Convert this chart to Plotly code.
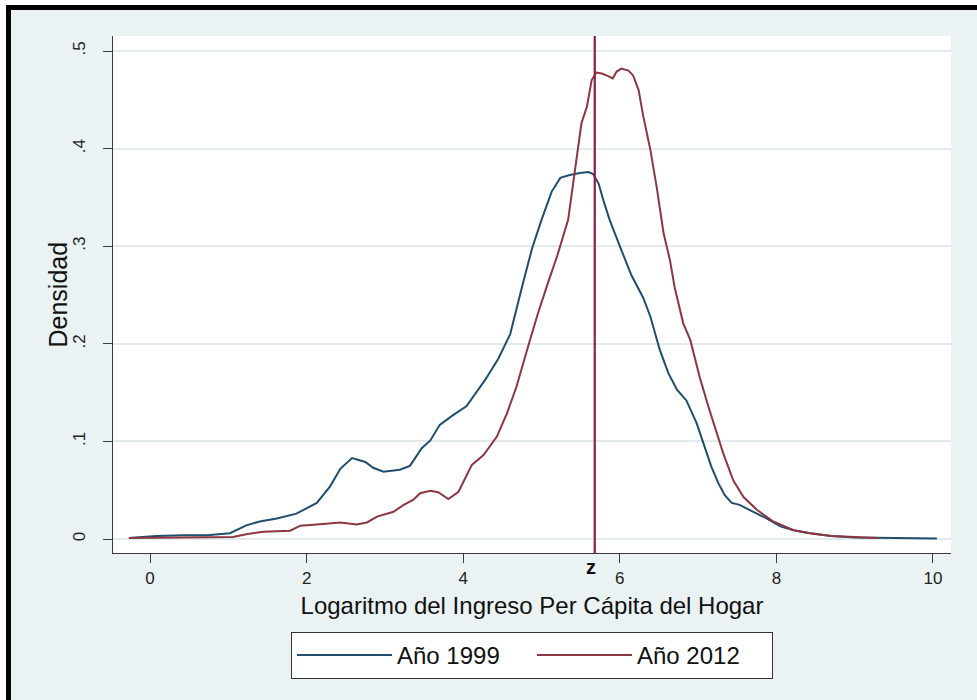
import plotly.graph_objects as go

# ---------------- data ----------------
x_1999 = [-0.27, 0.08, 0.42, 0.73, 1.02, 1.23, 1.40, 1.62, 1.87, 2.13, 2.30, 2.43, 2.58, 2.75,
          2.85, 2.98, 3.19, 3.32, 3.47, 3.58, 3.70, 3.87, 4.04, 4.17, 4.28, 4.45, 4.60, 4.75,
          4.88, 5.00, 5.13, 5.24, 5.36, 5.49, 5.60, 5.66, 5.73, 5.79, 5.87, 6.02, 6.15, 6.30,
          6.39, 6.51, 6.62, 6.73, 6.85, 6.98, 7.07, 7.17, 7.26, 7.34, 7.43, 7.53, 7.70, 7.88,
          8.05, 8.22, 8.43, 8.70, 9.00, 9.50, 10.05]
y_1999 = [0.001, 0.003, 0.004, 0.004, 0.006, 0.014, 0.018, 0.021, 0.026, 0.037, 0.054, 0.072,
          0.083, 0.079, 0.073, 0.069, 0.071, 0.075, 0.093, 0.101, 0.117, 0.127, 0.136, 0.151,
          0.163, 0.185, 0.210, 0.258, 0.298, 0.327, 0.356, 0.370, 0.373, 0.375, 0.376, 0.374,
          0.364, 0.347, 0.327, 0.296, 0.270, 0.247, 0.228, 0.194, 0.170, 0.153, 0.142, 0.119,
          0.098, 0.074, 0.057, 0.045, 0.037, 0.035, 0.028, 0.021, 0.013, 0.009, 0.006, 0.003,
          0.0015, 0.001, 0.0005]

x_2012 = [-0.27, 0.72, 1.06, 1.23, 1.45, 1.79, 1.92, 2.13, 2.43, 2.64, 2.77, 2.90, 3.11, 3.24,
          3.36, 3.45, 3.58, 3.68, 3.81, 3.94, 4.11, 4.26, 4.43, 4.56, 4.68, 4.82, 4.95, 5.08,
          5.20, 5.34, 5.43, 5.51, 5.58, 5.64, 5.70, 5.77, 5.83, 5.91, 5.96, 6.02, 6.11, 6.17,
          6.24, 6.30, 6.39, 6.47, 6.56, 6.64, 6.70, 6.81, 6.90, 7.02, 7.13, 7.22, 7.32, 7.45,
          7.58, 7.75, 7.96, 8.22, 8.43, 8.70, 9.00, 9.30]
y_2012 = [0.001, 0.0013, 0.002, 0.005, 0.0075, 0.0085, 0.0137, 0.015, 0.017, 0.015, 0.017,
          0.023, 0.028, 0.035, 0.040, 0.047, 0.0495, 0.048, 0.041, 0.0485, 0.076, 0.086, 0.105,
          0.129, 0.156, 0.195, 0.230, 0.262, 0.290, 0.327, 0.378, 0.426, 0.443, 0.470, 0.478,
          0.477, 0.475, 0.472, 0.479, 0.482, 0.480, 0.475, 0.460, 0.433, 0.399, 0.361, 0.313,
          0.286, 0.258, 0.221, 0.204, 0.166, 0.136, 0.112, 0.088, 0.060, 0.043, 0.030, 0.018,
          0.009, 0.006, 0.003, 0.002, 0.001]

series_names = ["Año 1999", "Año 2012"]
z_value = 5.68
z_label = "z"

x_tick_vals = [0, 2, 4, 6, 8, 10]
x_tick_text = ["0", "2", "4", "6", "8", "10"]
y_tick_vals = [0, 0.1, 0.2, 0.3, 0.4, 0.5]
y_tick_text = ["0", ".1", ".2", ".3", ".4", ".5"]

x_title = "Logaritmo del Ingreso Per Cápita del Hogar"
y_title = "Densidad"

# ---------------- styling ----------------
W, H = 977, 700
ML, MR, MT, MB = 113, 26, 36, 147
FONT = "Arial, Liberation Sans, sans-serif"
NAVY = "#1f4e6e"
MAROON = "#8e3640"
ZLINE = "#8b1d48"
BG = "#eaf2f3"
GRID = "#e2eaed"
AXIS = "#3a3a3a"

pw = W - ML - MR
ph = H - MT - MB


def px_x(p):
    return (p - ML) / pw


def px_y(p):
    return (H - MB - p) / ph


fig = go.Figure()
fig.add_trace(go.Scatter(x=x_1999, y=y_1999, mode="lines", name=series_names[0],
                         line=dict(color=NAVY, width=2)))
fig.add_trace(go.Scatter(x=x_2012, y=y_2012, mode="lines", name=series_names[1],
                         line=dict(color=MAROON, width=2)))

fig.add_shape(type="line", xref="x", yref="paper", x0=z_value, x1=z_value, y0=0, y1=1,
              line=dict(color=ZLINE, width=2.2), layer="above")
fig.add_annotation(x=z_value, xref="x", y=0, yref="paper", yanchor="top", yshift=-1,
                   xshift=-4, text=f"<b>{z_label}</b>", showarrow=False,
                   font=dict(family=FONT, size=20, color="#111111"))

# y-axis title placed as rotated text
fig.add_annotation(x=px_x(57), xref="paper", y=0.5, yref="paper", xanchor="center",
                   yanchor="middle", text=y_title, textangle=-90, showarrow=False,
                   font=dict(family=FONT, size=25, color="#111111"))

# outer frame (white edge and black border, top and left)
fig.add_shape(type="rect", xref="paper", yref="paper", x0=px_x(-5), x1=px_x(W + 5),
              y0=px_y(5), y1=px_y(-5), fillcolor="white", line=dict(width=0), layer="below")
fig.add_shape(type="rect", xref="paper", yref="paper", x0=px_x(-5), x1=px_x(6),
              y0=px_y(H + 5), y1=px_y(-5), fillcolor="white", line=dict(width=0), layer="below")
fig.add_shape(type="rect", xref="paper", yref="paper", x0=px_x(6), x1=px_x(W + 5),
              y0=px_y(10), y1=px_y(5), fillcolor="black", line=dict(width=0), layer="below")
fig.add_shape(type="rect", xref="paper", yref="paper", x0=px_x(6), x1=px_x(11),
              y0=px_y(H + 5), y1=px_y(5), fillcolor="black", line=dict(width=0), layer="below")

fig.update_layout(
    width=W, height=H,
    margin=dict(l=ML, r=MR, t=MT, b=MB, autoexpand=False),
    paper_bgcolor=BG, plot_bgcolor="white",
    font=dict(family=FONT, size=17, color="#222222"),
    showlegend=True,
    legend=dict(orientation="h", x=0.5, xanchor="center", y=px_y(632), yanchor="top",
                bgcolor="white", bordercolor="#333333", borderwidth=1,
                font=dict(family=FONT, size=24, color="#111111"),
                itemwidth=95, entrywidth=130, tracegroupgap=0),
)
fig.update_xaxes(range=[-0.473, 10.23], tickvals=x_tick_vals, ticktext=x_tick_text,
                 showgrid=False, zeroline=False, showline=True, linecolor=AXIS, linewidth=1.3,
                 ticks="outside", ticklen=9, tickcolor=AXIS, tickwidth=1.3,
                 tickfont=dict(size=17, color="#222222"),
                 title=dict(text=x_title, font=dict(size=24, color="#111111"), standoff=10))
fig.update_yaxes(range=[-0.0143, 0.5154], tickvals=y_tick_vals, ticktext=y_tick_text,
                 showgrid=True, gridcolor=GRID, gridwidth=1.5, zeroline=False,
                 showline=True, linecolor=AXIS, linewidth=1.3,
                 ticks="outside", ticklen=9, tickcolor=AXIS, tickwidth=1.3, tickangle=-90,
                 ticklabelstandoff=11,
                 tickfont=dict(size=17, color="#222222"))

fig.write_html("out.html", post_script="document.body.style.margin='0';",
               config={"displayModeBar": False})
